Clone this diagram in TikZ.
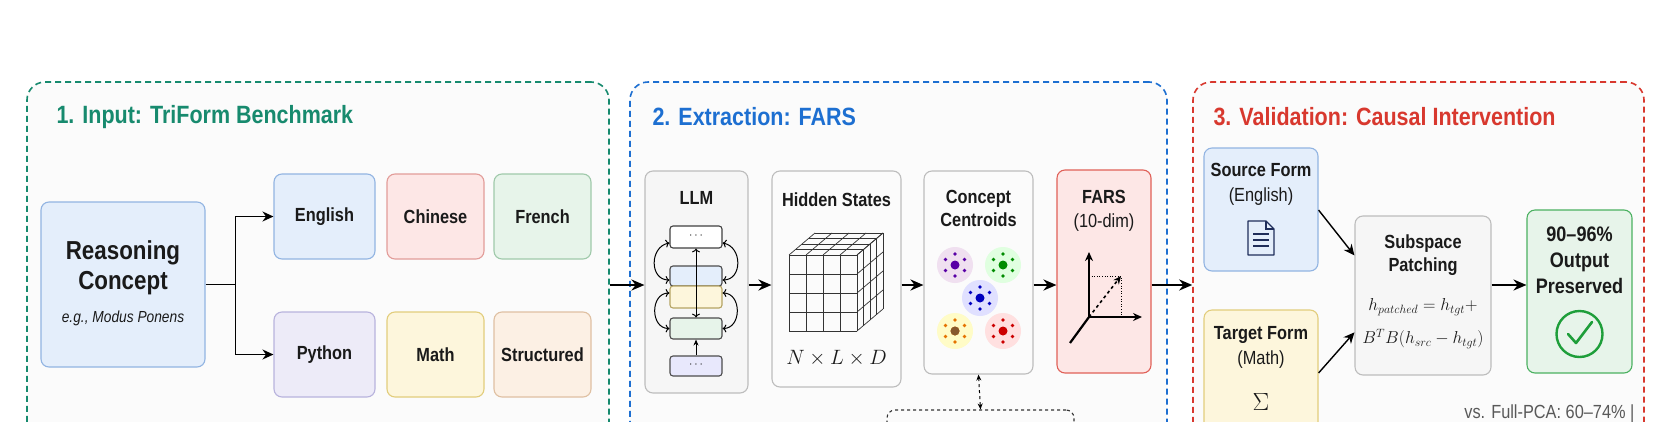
\documentclass[tikz,border=0pt]{standalone}
\usepackage{fontspec}
\setmainfont{Liberation Sans}[FakeStretch=0.86]
\usetikzlibrary{arrows.meta,calc}
\definecolor{tgreen}{HTML}{178A6E}
\definecolor{tblue}{HTML}{1D6FD1}
\definecolor{tred}{HTML}{D8382E}
\definecolor{txt}{HTML}{1A1A1A}
\definecolor{bF}{HTML}{E4EEFB}\definecolor{bD}{HTML}{92B4E2}
\definecolor{rF}{HTML}{FDE7E6}\definecolor{rD}{HTML}{E29C99}
\definecolor{gF}{HTML}{E7F4EA}\definecolor{gD}{HTML}{9FC9AA}
\definecolor{pF}{HTML}{EDEBF8}\definecolor{pD}{HTML}{B8B3DD}
\definecolor{yF}{HTML}{FDF6DC}\definecolor{yD}{HTML}{E2CD7C}
\definecolor{oF}{HTML}{FCF0E4}\definecolor{oD}{HTML}{DFC0A2}
\definecolor{kF}{HTML}{F6F6F6}\definecolor{kD}{HTML}{BDBDBD}
\definecolor{navy}{HTML}{1F2D5A}
\definecolor{okg}{HTML}{1E9E3A}
\tikzset{
  panel/.style={draw=#1,dashed,dash pattern=on 6pt off 4pt,line width=1.6pt,rounded corners=18pt,fill=white!97!gray,inner sep=0},
  bx/.style 2 args={draw=#2,fill=#1,line width=1.1pt,rounded corners=8pt,inner sep=0,text=txt,align=center},
  ttl/.style={font=\bfseries\fontsize{25}{30}\selectfont,anchor=west},
  lab/.style={font=\bfseries\fontsize{19}{23}\selectfont,text=txt,align=center},
  arr/.style={line width=2.4pt,-{Stealth[length=13pt,width=11pt]}},
  thin/.style={line width=1pt,-{Stealth[length=6pt,width=5pt]}},
}
\begin{document}
\begin{tikzpicture}[x=1pt,y=-1pt]
\useasboundingbox (0,0) rectangle (1674,421);
\clip (0,0) rectangle (1674,421);
\fill[white] (0,0) rectangle (1674,421);
\coordinate (ay) at (0,285);
% panels
\node[panel=tgreen,minimum width=582,minimum height=440] (p1) at (318,302) {};
\node[panel=tblue,minimum width=537,minimum height=440] (p2) at (898.5,302) {};
\node[panel=tred,minimum width=451,minimum height=440] (p3) at (1418.5,302) {};
\node[ttl,text=tgreen] (t1) at (53,117) {1. Input: TriForm Benchmark};
\node[ttl,text=tblue] (t2) at (649,117) {2. Extraction: FARS};
\node[ttl,text=tred] (t3) at (1210,117) {3. Validation: Causal Intervention};
% panel 1
\node[bx={bF}{bD},minimum width=164,minimum height=165] (reason) at (123,284.5) {};
\node[font=\bfseries\fontsize{26}{30}\selectfont,text=txt,align=center] (rt) at (123,268) {Reasoning\\Concept};
\node[font=\itshape\fontsize{16}{19}\selectfont,text=txt] (rex) at (123,318) {e.g., Modus Ponens};
\node[bx={bF}{bD},minimum width=101,minimum height=85,lab] (en) at (324.5,216.5) {English};
\node[bx={rF}{rD},minimum width=97,minimum height=85,lab] (zh) at (435.5,216.5) {Chinese};
\node[bx={gF}{gD},minimum width=97,minimum height=85,lab] (fr) at (542.5,216.5) {French};
\node[bx={pF}{pD},minimum width=101,minimum height=85,lab] (py) at (324.5,354.5) {Python};
\node[bx={yF}{yD},minimum width=97,minimum height=85,lab] (ma) at (435.5,354.5) {Math};
\node[bx={oF}{oD},minimum width=97,minimum height=85,lab] (st) at (542.5,354.5) {Structured};
\draw[line width=1.6pt] (reason.east) -- ++(30,0) coordinate (j);
\draw[line width=1.6pt,-{Stealth[length=11pt,width=10pt]}] (j) |- (en.west);
\draw[line width=1.6pt,-{Stealth[length=11pt,width=10pt]}] (j) |- (py.west);
% panel 2
\node[bx={kF}{kD},minimum width=103,minimum height=222] (llm) at (696.5,282) {};
\node[lab] (llmt) at (696.5,198) {LLM};
\node[bx={white}{black!75},rounded corners=3pt,minimum width=52,minimum height=22,font=\fontsize{12}{12}\selectfont] (l1) at (696,237) {\raisebox{2pt}{$\cdots$}};
\node[bx={bF}{black!70},rounded corners=3pt,minimum width=52,minimum height=20] (l2) at (696,276) {};
\node[bx={yF}{yD!80!black},rounded corners=3pt,minimum width=52,minimum height=22] (l3) at (696,297) {};
\node[bx={gF}{black!70},rounded corners=3pt,minimum width=52,minimum height=21] (l4) at (696,328.5) {};
\node[bx={kF!80!blue!40!white}{black!70},rounded corners=3pt,minimum width=52,minimum height=20,font=\fontsize{12}{12}\selectfont] (l5) at (696,366) {\raisebox{2pt}{$\cdots$}};
\draw[thin,<->] (l1.south) -- (l4.north);
\draw[thin] (l5.north) -- (l4.south);
\draw[thin,<->] ($(l1.west)+(0,6)$) to[out=190,in=180,looseness=1.4] ($(l2.west)+(0,4)$);
\draw[thin,<->] ($(l3.west)+(0,-4)$) to[out=180,in=180,looseness=1.4] (l4.west);
\draw[thin,<->] ($(l1.east)+(0,6)$) to[out=-10,in=0,looseness=1.4] ($(l2.east)+(0,4)$);
\draw[thin,<->] ($(l3.east)+(0,-4)$) to[out=0,in=0,looseness=1.4] (l4.east);
\node[bx={white!97!gray}{kD},minimum width=129,minimum height=216] (hid) at (836.5,279) {};
\node[lab] (hidt) at (836.5,200) {Hidden States};
\begin{scope}[line width=0.7pt,draw=black!80]
  \foreach \i in {0,...,4}{
    \draw (789+17*\i,255) -- (789+17*\i,331);
    \draw (789,255+19*\i) -- (857,255+19*\i);
    \draw (789+17*\i,255) -- (815+17*\i,233);
    \draw (857,255+19*\i) -- (883,233+19*\i);
    \draw (789+26*\i/4,255-22*\i/4) -- (857+26*\i/4,255-22*\i/4);
    \draw (857+26*\i/4,255-22*\i/4) -- (857+26*\i/4,331-22*\i/4);
  }
\end{scope}
\node[font=\fontsize{22}{24}\selectfont,text=txt] (nld) at (836.5,358) {$N\times L\times D$};
\node[bx={white!97!gray}{kD},minimum width=109,minimum height=203] (cen) at (978.5,272.5) {};
\node[lab] (cent) at (978.5,208.5) {Concept\\Centroids};
\foreach \cx/\cy/\lc/\dc in {955/265/violet!12/violet!70!blue, 1003/265/green!12/green!55!black, 980/298/blue!12/blue!75!black, 955/331/yellow!22/orange!90!black, 1003/331/red!12/red!80!black}{
  \fill[\lc] (\cx,\cy) circle (18);
  \fill[\dc] (\cx,\cy) circle (4.5);
  \foreach \a in {30,90,150,210,270,330}
    \fill[\dc] ($(\cx,\cy)+(\a:11)$) circle (1.8);
}
\fill[brown!70!black] (955,331) circle (4.5);
\node[bx={rF}{tred!80},minimum width=94,minimum height=203] (fars) at (1104,271.5) {};
\node[lab] (farst) at (1104,211) {FARS\\[1pt]\fontseries{m}\selectfont (10-dim)};
\coordinate (o) at (1089,317);
\draw[line width=2.2pt,-{Stealth[length=9pt,width=8pt]}] (o) -- (1089,252);
\draw[line width=2.2pt,-{Stealth[length=9pt,width=8pt]}] (o) -- (1142,317);
\draw[line width=2.2pt] (o) -- (1070,343);
\draw[line width=0.6pt,dotted] (1089,276) -- (1121,276) -- (1121,317);
\draw[line width=1.6pt,dashed,-{Stealth[length=8pt,width=7pt]}] (o) -- (1121,276);
\node[draw=black!80,dashed,line width=1.1pt,rounded corners=8pt,minimum width=187,minimum height=50] (dbox) at (980.5,435) {};
\draw[line width=1pt,dashed,{Stealth[length=6pt,width=5pt]}-{Stealth[length=6pt,width=5pt]}] (cen.south) -- (dbox.north);
\draw[arr] (p1.east|-ay) -- (llm.west|-ay);
\draw[arr] (llm.east|-ay) -- (hid.west|-ay);
\draw[arr] (hid.east|-ay) -- (cen.west|-ay);
\draw[arr] (cen.east|-ay) -- (fars.west|-ay);
\draw[arr] (fars.east|-ay) -- (p3.west|-ay);
% panel 3
\node[bx={bF}{bD},minimum width=114,minimum height=123] (src) at (1261,209.5) {};
\node[lab,font=\fontsize{19}{25}\selectfont] (srct) at (1261,184) {\bfseries Source Form\\(English)};
\begin{scope}[navy,line width=1.3pt]
  \draw[line join=round] (1248,221) -- (1266,221) -- (1274,229) -- (1274,255) -- (1248,255) -- cycle;
  \draw (1266,221) -- (1266,229) -- (1274,229);
  \foreach \yy in {234,240,246} \draw (1253,\yy) -- (1269,\yy);
\end{scope}
\node[bx={yF}{yD},minimum width=114,minimum height=170] (tgt) at (1261,395) {};
\node[lab,font=\fontsize{19}{25}\selectfont] (tgtt) at (1261,347) {\bfseries Target Form\\(Math)};
\node[font=\fontsize{44}{44}\selectfont,text=txt] (sig) at (1261,402) {$\Sigma$};
\node[bx={kF}{kD},minimum width=136,minimum height=159] (sub) at (1423,295.5) {};
\node[lab] (subt) at (1423,255) {Subspace\\Patching};
\node[font=\fontsize{18}{20}\selectfont,text=txt] (f1) at (1423,307) {$h_{patched}=h_{tgt}+$};
\node[font=\fontsize{18}{20}\selectfont,text=txt] (f2) at (1423,339) {$B^TB(h_{src}-h_{tgt})$};
\node[bx={gF}{okg!80},minimum width=105,minimum height=163] (out) at (1579.5,291.5) {};
\node[lab,font=\bfseries\fontsize{21}{26}\selectfont] (outt) at (1579.5,260) {90–96\%\\Output\\Preserved};
\draw[okg,line width=2.4pt] (1579.5,334) circle (23);
\draw[okg,line width=2.6pt,line join=round,line cap=round] (1568,334) -- (1576,343) -- (1592,322);
\draw[line width=1.4pt,-{Stealth[length=11pt,width=10pt]}] (src.north east|-0,210) -- ($(sub.north west)!0.25!(sub.south west)$);
\draw[line width=1.4pt,-{Stealth[length=11pt,width=10pt]}] (tgt.north east|-0,373) -- ($(sub.north west)!0.73!(sub.south west)$);
\draw[arr] (sub.east|-ay) -- (out.west|-ay);
\node[font=\fontsize{19}{22}\selectfont,text=black!65,anchor=east] (vs) at (1638,414) {vs. Full-PCA: 60–74\% |};
\end{tikzpicture}
\end{document}
